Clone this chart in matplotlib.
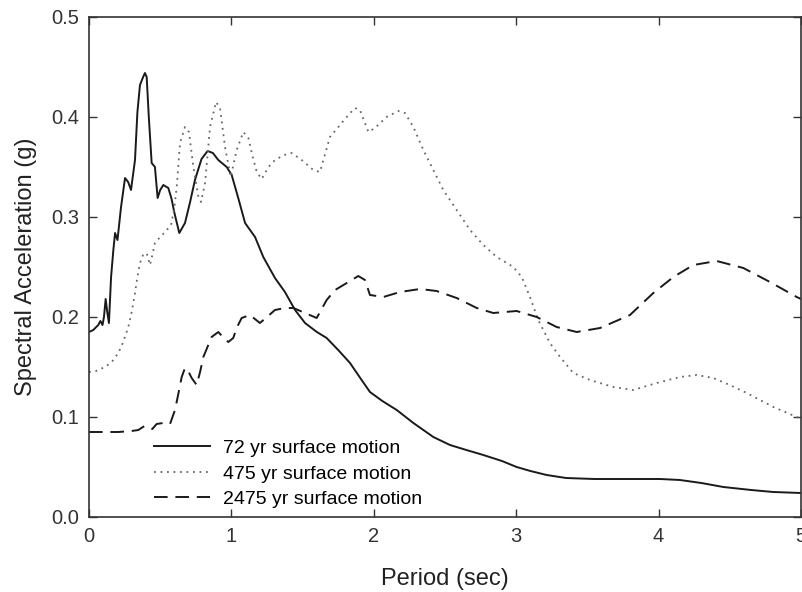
import matplotlib.pyplot as plt

plt.rcParams["font.family"] = ["Liberation Sans", "DejaVu Sans"]

# 72 yr surface motion
t_72 = [0.0, 0.03, 0.065, 0.08, 0.095, 0.105, 0.117, 0.128, 0.14, 0.155, 0.171, 0.183, 0.2,
        0.225, 0.253, 0.275, 0.295, 0.323, 0.34, 0.358, 0.38, 0.393, 0.405, 0.42, 0.44, 0.463,
        0.482, 0.5, 0.522, 0.557, 0.58, 0.6, 0.634, 0.674, 0.71, 0.744, 0.79, 0.833, 0.87,
        0.908, 0.967, 1.002, 1.05, 1.096, 1.166, 1.224, 1.306, 1.376, 1.447, 1.517, 1.6,
        1.669, 1.75, 1.833, 1.9, 1.973, 2.06, 2.161, 2.278, 2.418, 2.535, 2.65, 2.769, 2.9,
        3.003, 3.1, 3.214, 3.35, 3.55, 3.8, 4.01, 4.15, 4.3, 4.455, 4.65, 4.806, 5.0]
sa_72 = [0.185, 0.187, 0.192, 0.196, 0.192, 0.2, 0.218, 0.205, 0.194, 0.24, 0.267, 0.284, 0.277,
         0.31, 0.339, 0.335, 0.327, 0.357, 0.405, 0.432, 0.44, 0.444, 0.44, 0.4, 0.354, 0.35,
         0.319, 0.327, 0.332, 0.329, 0.318, 0.304, 0.284, 0.294, 0.315, 0.337, 0.358, 0.366, 0.364,
         0.357, 0.35, 0.342, 0.318, 0.294, 0.28, 0.26, 0.239, 0.225, 0.207, 0.194, 0.185,
         0.179, 0.167, 0.154, 0.14, 0.125, 0.116, 0.107, 0.094, 0.08, 0.072, 0.067, 0.062, 0.056,
         0.05, 0.046, 0.042, 0.039, 0.038, 0.038, 0.038, 0.037, 0.034, 0.03, 0.027, 0.025, 0.024]

# 475 yr surface motion
t_475 = [0.0, 0.05, 0.112, 0.16, 0.206, 0.24, 0.276, 0.3, 0.323, 0.34, 0.358, 0.38, 0.405, 0.428,
         0.445, 0.463, 0.5, 0.534, 0.576, 0.6, 0.616, 0.639, 0.674, 0.702, 0.733, 0.768, 0.787,
         0.815, 0.85, 0.892, 0.92, 0.955, 0.995, 1.037, 1.084, 1.119, 1.15, 1.178, 1.213, 1.26,
         1.306, 1.37, 1.423, 1.494, 1.575, 1.622, 1.692, 1.763, 1.821, 1.868, 1.903, 1.935,
         1.962, 2.008, 2.09, 2.172, 2.219, 2.278, 2.348, 2.418, 2.488, 2.582, 2.676, 2.769,
         2.863, 2.98, 3.039, 3.097, 3.155, 3.237, 3.308, 3.401, 3.518, 3.682, 3.822, 3.987,
         4.15, 4.268, 4.384, 4.5, 4.619, 4.806, 4.97, 5.0]
sa_475 = [0.145, 0.146, 0.15, 0.155, 0.164, 0.175, 0.19, 0.205, 0.224, 0.24, 0.254, 0.262, 0.264,
          0.252, 0.262, 0.274, 0.28, 0.285, 0.292, 0.31, 0.33, 0.374, 0.39, 0.385, 0.35, 0.32,
          0.315, 0.334, 0.39, 0.415, 0.409, 0.37, 0.34, 0.367, 0.385, 0.379, 0.36, 0.345, 0.338,
          0.35, 0.357, 0.362, 0.364, 0.357, 0.347, 0.345, 0.38, 0.392, 0.402, 0.409, 0.407, 0.395,
          0.385, 0.389, 0.4, 0.406, 0.404, 0.39, 0.367, 0.347, 0.327, 0.307, 0.287, 0.272,
          0.26, 0.25, 0.24, 0.22, 0.197, 0.174, 0.16, 0.144, 0.137, 0.13, 0.127, 0.134,
          0.14, 0.142, 0.139, 0.132, 0.124, 0.11, 0.1, 0.098]

# 2475 yr surface motion
t_2475 = [0.0, 0.206, 0.3, 0.346, 0.39, 0.417, 0.445, 0.475, 0.52, 0.569, 0.604, 0.63, 0.651,
          0.674, 0.7, 0.721, 0.756, 0.78, 0.803, 0.861, 0.908, 0.94, 0.978, 1.013, 1.04, 1.072,
          1.13, 1.2, 1.25, 1.306, 1.376, 1.435, 1.517, 1.599, 1.669, 1.728, 1.81, 1.891, 1.938,
          1.973, 2.067, 2.184, 2.325, 2.441, 2.582, 2.723, 2.839, 3.003, 3.144, 3.284, 3.425,
          3.589, 3.799, 3.963, 4.104, 4.244, 4.408, 4.595, 4.782, 4.97, 5.0]
sa_2475 = [0.085, 0.085, 0.086, 0.087, 0.091, 0.09, 0.088, 0.093, 0.094, 0.093, 0.107, 0.125, 0.14,
           0.149, 0.145, 0.139, 0.132, 0.145, 0.16, 0.18, 0.185, 0.18, 0.175, 0.179, 0.19, 0.199,
           0.202, 0.194, 0.2, 0.207, 0.209, 0.209, 0.204, 0.199, 0.217, 0.227, 0.234, 0.241, 0.237,
           0.222, 0.22, 0.225, 0.228, 0.226, 0.219, 0.209, 0.204, 0.206, 0.2, 0.19, 0.185,
           0.189, 0.202, 0.224, 0.24, 0.252, 0.256, 0.249, 0.235, 0.22, 0.218]

fig = plt.figure(figsize=(8.03, 5.92), dpi=100)
ax = fig.add_axes([89 / 803, 75 / 592, 712 / 803, 500 / 592])

ax.plot(t_72, sa_72, color="#1a1a1a", lw=1.4, label="72 yr surface motion")
ax.plot(t_475, sa_475, color="#666666", lw=1.3, dashes=(1, 2.6), label="475 yr surface motion")
ax.plot(t_2475, sa_2475, color="#1a1a1a", lw=1.4, dashes=(7, 4), label="2475 yr surface motion")

ax.set_xlim(0, 5)
ax.set_ylim(0, 0.5)
ax.set_xticks([0, 1, 2, 3, 4, 5])
ax.set_yticks([0.0, 0.1, 0.2, 0.3, 0.4, 0.5])
ax.set_yticklabels(["0.0", "0.1", "0.2", "0.3", "0.4", "0.5"])
ax.tick_params(direction="in", length=6, width=1, labelsize=14.5, top=True, right=True,
               colors="#333333", pad=7)
for sp in ax.spines.values():
    sp.set_color("#333333")
    sp.set_linewidth(1.2)

ax.set_xlabel("Period (sec)", fontsize=17, labelpad=16, color="#222222")
ax.set_ylabel("Spectral Acceleration (g)", fontsize=17, labelpad=10, color="#222222")

ax.legend(loc="lower left", bbox_to_anchor=(0.069, -0.013), frameon=False, fontsize=14,
          handlelength=2.9, handletextpad=0.65, labelspacing=0.4, borderpad=0.3)

fig.savefig("out.png", dpi=100)
